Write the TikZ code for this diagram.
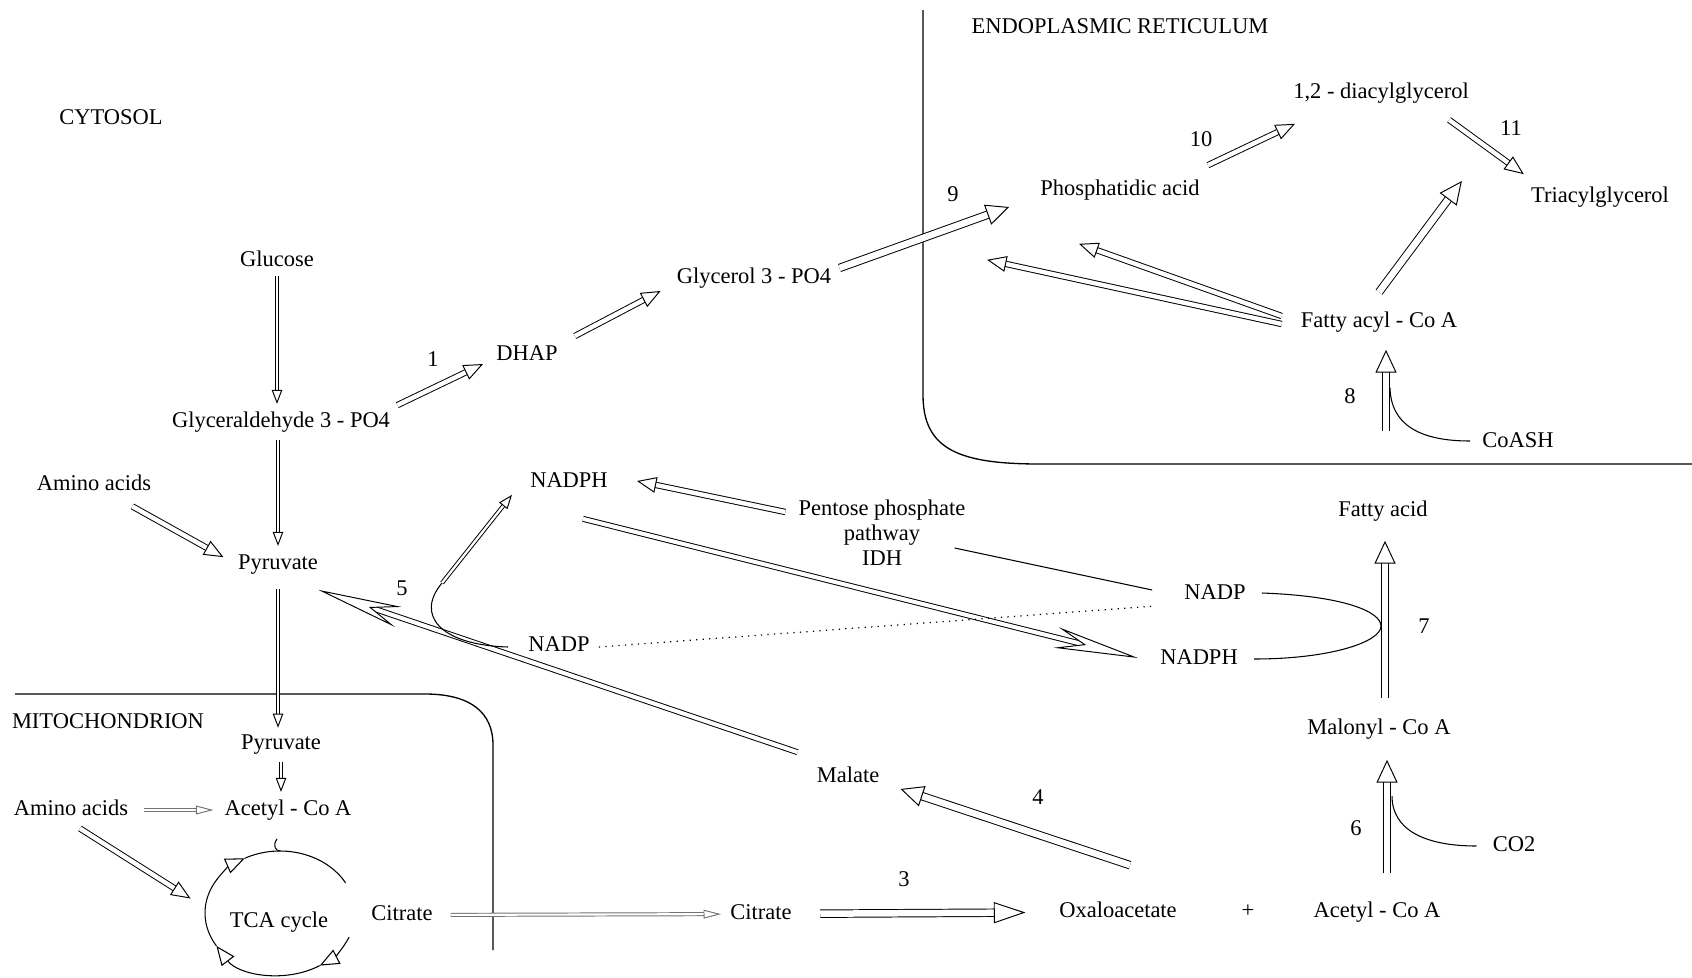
\documentclass[tikz,border=0pt]{standalone}
\usepackage{fontspec}
\setmainfont{Liberation Serif}
\usetikzlibrary{arrows.meta,calc}
\tikzset{>=Latex}

\begin{document}
\begin{tikzpicture}[x=0.02cm,y=-0.02cm,line width=.6pt,
        txt/.style={font=\fontsize{12.8}{14.3}\selectfont,inner sep=1pt,text height=9pt,text depth=3pt},
        multi/.style={font=\fontsize{12.8}{14.3}\selectfont,inner sep=1pt,align=center},
        arrS/.style={double,double distance=1.3pt,line width=.55pt,shorten <=3pt,shorten >=3pt,
            -{Triangle[fill=white,line width=.55pt,width=6pt,length=8pt]}},
        arrM/.style={double,double distance=2.5pt,line width=.55pt,
            -{Triangle[fill=white,line width=.55pt,width=9pt,length=11pt]}},
        arrL/.style={double,double distance=3.7pt,line width=.55pt,
            -{Triangle[fill=white,line width=.55pt,width=12pt,length=13pt]}},
        arrH/.style={double,double distance=2.3pt,line width=.55pt,
            -{Stealth[fill=white,line width=.55pt,width=12pt,length=48pt,inset=16pt]}},
        arrG/.style={double,double distance=1.2pt,line width=.55pt,draw=black!55,
            -{Triangle[fill=white,line width=.55pt,width=5pt,length=10pt]}},
        tcatip/.style={-{Triangle[fill=white,line width=.6pt,width=9pt,length=11pt]}}]
        \useasboundingbox (0,0) rectangle (1692,977);
        % compartments
        \draw[line width=.75pt] (923,10) -- (923,395) .. controls (923,450) and (960,464) .. (1040,464) -- (1692,464);
        \draw[line width=.75pt] (15,694) -- (425,694) .. controls (470,694) and (493,712) .. (493,745) -- (493,950);
        \node[txt] at (111,119) (cyt) {CYTOSOL};
        \node[txt] at (1120,28) (er) {ENDOPLASMIC RETICULUM};
        \node[txt] at (108,723) (mito) {MITOCHONDRION};
        % metabolites
        \node[txt] at (277,261) (gluc) {Glucose};
        \node[txt] at (281,422) (gald) {Glyceraldehyde 3 - PO4};
        \node[txt] at (94,485) (aa) {Amino acids};
        \node[txt] at (278,564) (pyr) {Pyruvate};
        \node[txt] at (281,744) (pyrm) {Pyruvate};
        \node[txt] at (71,810) (aam) {Amino acids};
        \node[txt] at (288,810) (acm) {Acetyl - Co A};
        \node[txt] at (279,922) (tca) {TCA cycle};
        \node[txt] at (402,915) (citm) {Citrate};
        \node[txt] at (761,914) (cit) {Citrate};
        \node[txt] at (1118,912) (oaa) {Oxaloacetate};
        \node[txt] at (1248,912) (plus) {+};
        \node[txt] at (1377,912) (accr) {Acetyl - Co A};
        \node[txt] at (848,777) (mal) {Malate};
        \node[txt] at (1379,729) (malc) {Malonyl - Co A};
        \node[txt] at (1383,511) (fa) {Fatty acid};
        \node[txt] at (1215,594) (nadpR) {NADP};
        \node[txt] at (1199,659) (nadphR) {NADPH};
        \node[txt] at (559,646) (nadpL) {NADP};
        \node[txt] at (569,482) (nadphL) {NADPH};
        \node[multi] at (882,533) (ppp) {Pentose phosphate\\pathway\\IDH};
        \node[txt] at (527,355) (dhap) {DHAP};
        \node[txt] at (754,278) (glyp) {Glycerol 3 - PO4};
        \node[txt] at (1120,190) (pa) {Phosphatidic acid};
        \node[txt] at (1381,93) (dag) {1,2 - diacylglycerol};
        \node[txt] at (1600,197) (tag) {Triacylglycerol};
        \node[txt] at (1379,322) (facoa) {Fatty acyl - Co A};
        \node[txt] at (1518,442) (coash) {CoASH};
        \node[txt] at (1514,846) (co2) {CO2};
        % enzyme numbers
        \node[txt] at (433,361) (n1) {1};
        \node[txt] at (904,881) (n3) {3};
        \node[txt] at (1038,799) (n4) {4};
        \node[txt] at (402,590) (n5) {5};
        \node[txt] at (1356,830) (n6) {6};
        \node[txt] at (1424,628) (n7) {7};
        \node[txt] at (1350,398) (n8) {8};
        \node[txt] at (953,196) (n9) {9};
        \node[txt] at (1201,141) (n10) {10};
        \node[txt] at (1511,130) (n11) {11};
        % glycolysis
        \draw[arrS,shorten <=1pt] (gluc.south) -- (gluc.south |- gald.north);
        \draw[arrS] (pyr.north |- gald.south) -- (pyr.north);
        \draw[arrM,shorten <=10pt,shorten >=8pt] (aa) -- (pyr.west);
        \draw[arrS,shorten <=7pt,shorten >=2pt] (pyr.south) -- (pyr.south |- pyrm.north);
        \draw[arrS] (pyrm.south) -- (pyrm.south |- acm.north);
        \draw[arrG,shorten <=8pt,shorten >=5pt] (aam) -- (acm);
        \draw[arrM,shorten <=6pt,shorten >=25pt] (aam.south) -- (tca.west);
        % TCA cycle
        \coordinate (tcac) at (280,913);
        \draw[tcatip] ([shift={(23:75 and 62)}]tcac) arc[start angle=23,end angle=58,x radius=75,y radius=62];
        \draw[tcatip] ([shift={(58:75 and 62)}]tcac) arc[start angle=58,end angle=148,x radius=75,y radius=62];
        \draw[tcatip] ([shift={(148:75 and 62)}]tcac) arc[start angle=148,end angle=242,x radius=75,y radius=62];
        \draw ([shift={(242:75 and 62)}]tcac) arc[start angle=242,end angle=331,x radius=75,y radius=62];
        \draw ([shift={(-11,16)}]acm.south) .. controls (272,846) and (276,851) .. ([shift={(270:75 and 62)}]tcac);
        % citrate shuttle
        \draw[arrG,shorten <=9pt,shorten >=4pt] (citm) -- (cit);
        \draw[arrL,shorten <=15pt,shorten >=18pt,-{Triangle[fill=white,line width=.55pt,width=12pt,length=18pt]}] (cit) -- (oaa);
        \draw[arrL] ([shift={(12,-34)}]oaa.north) -- ([shift={(19,12)}]mal.east);
        \draw[arrH] ([shift={(-17,-12)}]mal.north west) -- ([shift={(-2,13)}]pyr.south east);
        % NADPH supply
        \draw[arrM] ([shift={(-11,-21)}]ppp.west) -- ([shift={(27,-1)}]nadphL.east);
        \draw[arrH] ([shift={(14,24)}]nadphL.south) -- ([shift={(-20,-1)}]nadphR.west);
        \coordinate (k5) at (442,583);
        \draw ([shift={(-18,1)}]nadpL.west) .. controls (440,645) and (415,615) .. (k5);
        \draw[arrS,shorten <=0pt,shorten >=0pt] (k5) -- ([shift={(-16,0)}]nadphL.south west);
        \draw ([shift={(-13,15)}]ppp.east) -- ([shift={(-30,-4)}]nadpR.west);
        \draw[line width=.7pt,dash pattern=on .7pt off 3pt] ([shift={(7,1)}]nadpL.east) -- ([shift={(-27,12)}]nadpR.west);
        \coordinate (k7) at (1381,626);
        \draw ([shift={(14,-1)}]nadpR.east) .. controls (1345,596) and (1381,612) .. (k7)
            .. controls (1381,642) and (1330,659) .. ([shift={(14,0)}]nadphR.east);
        % fatty acid synthesis
        \draw[arrL] ([shift={(10,-26)}]accr.north) -- ([shift={(8,18)}]malc.south);
        \coordinate (k6) at (1392,796);
        \draw ([shift={(-14,0)}]co2.west) .. controls (1425,846) and (1392,830) .. (k6);
        \draw[arrL] ([shift={(6,-18)}]malc.north) -- ([shift={(2,17)}]fa.south);
        \draw[arrL] ([shift={(3,-67)}]fa.north) -- ([shift={(7,15)}]facoa.south);
        \coordinate (k8) at (1390,388);
        \draw ([shift={(-10,-1)}]coash.west) .. controls (1420,441) and (1391,425) .. (k8);
        % triacylglycerol synthesis
        \draw[arrM] ([shift={(5,-4)}]gald.north east) -- ([shift={(-11,9)}]dhap.west);
        \draw[arrM] ([shift={(15,-19)}]dhap.east) -- ([shift={(-14,13)}]glyp.west);
        \draw[arrL] ([shift={(6,-10)}]glyp.east) -- ([shift={(-29,17)}]pa.west);
        \draw[arrM] ([shift={(6,-12)}]pa.north east) -- ([shift={(4,18)}]dag.south west);
        \draw[arrM] ([shift={(-22,14)}]dag.south east) -- ([shift={(-5,-10)}]tag.north west);
        \draw[arrM] ([shift={(-17,-6)}]facoa.west) -- ([shift={(-41,41)}]pa.south);
        \draw[arrM] ([shift={(-17,2)}]facoa.west) -- ([shift={(-51,57)}]pa.south west);
        \draw[arrL] ([shift={(0,-17)}]facoa.north) -- ([shift={(-67,-16)}]tag.west);
\end{tikzpicture}
\end{document}
